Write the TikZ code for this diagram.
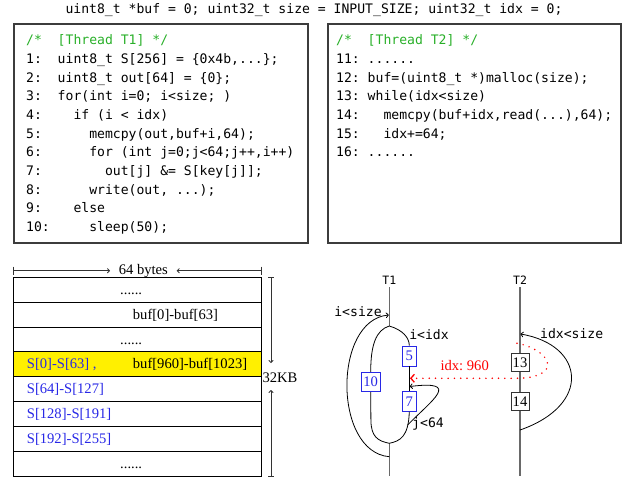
\documentclass[tikz,border=0pt]{standalone}
\usepackage{fontspec}
\setmainfont{Liberation Serif}
\setmonofont{DejaVu Sans Mono}
\usetikzlibrary{arrows.meta}
\frenchspacing
\definecolor{cgreen}{RGB}{40,175,40}
\definecolor{cblue}{RGB}{40,40,230}
\definecolor{cyellow}{RGB}{255,240,0}
\definecolor{cgray}{RGB}{105,105,105}
\definecolor{cred}{RGB}{255,0,0}
\definecolor{cframe}{RGB}{60,60,60}
\begin{document}
\begin{tikzpicture}[x=1pt,y=-1pt,
  code/.style={anchor=base west,inner sep=0pt,font=\fontsize{13.1}{15}\selectfont\ttfamily},
  cmt/.style={code,text=cgreen},
  mlab/.style={inner sep=0pt,font=\fontsize{13.1}{15}\selectfont\ttfamily},
  tlab/.style={inner sep=0pt,font=\fontsize{11.5}{13}\selectfont\ttfamily},
  serif/.style={inner sep=0pt,anchor=base west,font=\fontsize{14.6}{16}\selectfont},
  bluetxt/.style={serif,text=cblue},
  frame/.style={draw=cframe,line width=1.1pt},
  row/.style={draw=black,line width=0.9pt},
  dim/.style={draw=black!80,line width=0.8pt},
  dimarrow/.style={dim,-{To[length=3pt,width=5pt]}},
  thread/.style={draw=cgray,line width=1.5pt},
  flow/.style={draw=black,line width=0.8pt},
  flowarrow/.style={flow,-{To[length=3pt,width=5.5pt]}},
  bbox/.style={draw=cblue,text=cblue,fill=white,inner sep=0pt,line width=0.9pt,
    minimum width=13.3pt,minimum height=20pt,font=\fontsize{14.6}{16}\selectfont},
  kbox/.style={draw=black!80,fill=white,inner sep=0pt,line width=0.9pt,
    minimum width=18pt,minimum height=18.5pt,font=\fontsize{14.6}{16}\selectfont},
  reddot/.style={draw=cred,line width=1.7pt,line cap=round,dash pattern=on 0pt off 6.3pt,
    -{Straight Barb[length=3.5pt,width=8pt,line width=1.3pt]}}
]
\useasboundingbox (0,0) rectangle (634,482);

% top declaration
\node[mlab,anchor=base] (decl) at (314,13) {uint8\_t~*buf~=~0;~uint32\_t~size~=~INPUT\_SIZE;~uint32\_t~idx~=~0;};

% code boxes
\draw[frame] (14,24) rectangle (308,243);
\draw[frame] (328,24) rectangle (621,243);

\node[cmt] (c0) at (26,44.5) {/*~~[Thread~T1]~*/};
\node[code] (c1) at (26,63.5) {1:~~uint8\_t~S[256]~=~\{0x4b,...\};};
\node[code] (c2) at (26,82.2) {2:~~uint8\_t~out[64]~=~\{0\};};
\node[code] (c3) at (26,100.8) {3:~~for(int~i=0;~i<size;~)};
\node[code] (c4) at (26,119.5) {4:~~~~if~(i~<~idx)};
\node[code] (c5) at (26,138.2) {5:~~~~~~memcpy(out,buf+i,64);};
\node[code] (c6) at (26,156.9) {6:~~~~~~for~(int~j=0;j<64;j++,i++)};
\node[code] (c7) at (26,175.5) {7:~~~~~~~~out[j]~\&=~S[key[j]];};
\node[code] (c8) at (26,194.2) {8:~~~~~~write(out,~...);};
\node[code] (c9) at (26,212.9) {9:~~~~else};
\node[code] (c10) at (26,231.5) {10:~~~~~sleep(50);};

\node[cmt] (d0) at (336,44.5) {/*~~[Thread~T2]~*/};
\node[code] (d1) at (336,63.5) {11:~......};
\node[code] (d2) at (336,82.2) {12:~buf=(uint8\_t~*)malloc(size);};
\node[code] (d3) at (336,100.8) {13:~while(idx<size)};
\node[code] (d4) at (336,119.5) {14:~~~memcpy(buf+idx,read(...),64);};
\node[code] (d5) at (336,138.2) {15:~~~idx+=64;};
\node[code] (d6) at (336,156.9) {16:~......};

% memory table
\fill[cyellow] (13.3,351.9) rectangle (261.7,376.7);
\foreach \i in {0,...,8} {
  \draw[row] (13.3,277.5+24.81*\i) -- (261.7,277.5+24.81*\i);
}
\draw[row] (13.3,277.5) -- (13.3,476);
\draw[row] (261.7,277.5) -- (261.7,476);

\node[serif] (m1) at (120,294.4) {......};
\node[serif] (m2) at (132.7,319.2) {buf[0]-buf[63]};
\node[serif] (m3) at (120,344.0) {......};
\node[bluetxt] (m4a) at (26.7,368.8) {S[0]-S[63] ,};
\node[serif] (m4b) at (132.7,368.8) {buf[960]-buf[1023]};
\node[bluetxt] (m5) at (26.7,393.6) {S[64]-S[127]};
\node[bluetxt] (m6) at (26.7,418.5) {S[128]-S[191]};
\node[bluetxt] (m7) at (26.7,443.3) {S[192]-S[255]};
\node[serif] (m8) at (120,468.1) {......};

% dimension 64 bytes
\coordinate (hl) at (13.3,270.7);
\coordinate (hr) at (261.7,270.7);
\node[serif,anchor=base] (hb) at (143.3,274.5) {64 bytes};
\coordinate (hlt) at (110,270.7);
\coordinate (hrt) at (176.7,270.7);
\draw[dim] (13.3,266.5) -- (13.3,275);
\draw[dim] (261.7,266.5) -- (261.7,275);
\draw[dimarrow] (hl) -- (hlt);
\draw[dimarrow] (hr) -- (hrt);

% dimension 32KB
\coordinate (vt) at (271,277.7);
\coordinate (vb) at (271,476);
\coordinate (vtt) at (271,363);
\coordinate (vbt) at (271,390);
\node[serif,anchor=base] (vk) at (280,382) {32KB};
\draw[dim] (268,277.7) -- (274,277.7);
\draw[dim] (268,476) -- (274,476);
\draw[dimarrow] (vt) -- (vtt);
\draw[dimarrow] (vb) -- (vbt);

% threads
\node[tlab] (T1) at (389.3,280) {T1};
\node[tlab] (T2) at (520,280) {T2};
\coordinate (t1top) at (389.3,287);
\coordinate (split) at (389.3,326);
\coordinate (join) at (389.3,443.3);
\coordinate (t1bot) at (389.3,476);
\coordinate (t2top) at (520,287);
\coordinate (t2bot) at (520,476);
\draw[thread] (t1top) -- (split);
\draw[thread] (join) -- (t1bot);
\draw[thread] (t2top) -- (t2bot);

\node[bbox] (b5) at (409.3,356) {5};
\node[bbox] (b7) at (409.3,401.3) {7};
\node[bbox,minimum width=18.7pt,minimum height=19.4pt] (b10) at (370.7,382) {10};
\node[kbox] (b13) at (520,362.5) {13};
\node[kbox] (b14) at (520,401.3) {14};

% inner branches
\draw[flow] (split) .. controls (376,330) and (370.7,345) .. (b10.north);
\draw[flow] (b10.south) -- (370.9,420) .. controls (371,437) and (378,441) .. (join);
\draw[flow] (split) .. controls (403,330) and (409.3,338) .. (b5.north);
\draw[flow] (b5.south) -- (b7.north);
\draw[flow] (b7.south) .. controls (408.5,437) and (400,441) .. (join);

% outer loop i<size
\coordinate (osz) at (389.3,456.7);
\coordinate (osztip) at (388.8,315);
\draw[flowarrow] (osz) .. controls (333,452) and (333,320) .. (osztip);
\node[mlab] (lsize) at (358,311.7) {i<size};
\node[mlab] (lidx) at (429,335) {i<idx};

% j<64 loop
\coordinate (jst) at (407.6,425);
\coordinate (jtip) at (409.8,386.5);
\draw[flowarrow] (jst) .. controls (432,400) and (462,380) .. (jtip);
\node[mlab] (lj) at (428,423.5) {j<64};

% idx<size loop
\coordinate (t2st) at (520,430);
\coordinate (t2tip) at (520.5,334);
\draw[flowarrow] (t2st) .. controls (592,405) and (585,345) .. (t2tip);
\node[mlab] (lidxs) at (571.7,334) {idx<size};

% red dotted dependency
\coordinate (rst) at (517,343.3);
\coordinate (rtip) at (410,378.3);
\draw[reddot] (rst) .. controls (552,350) and (564,378.3) .. (515,378.3) -- (rtip);
\node[inner sep=0pt,text=cred,font=\fontsize{14.6}{16}\selectfont] (lred) at (464.7,366) {idx: 960};
\end{tikzpicture}
\end{document}
